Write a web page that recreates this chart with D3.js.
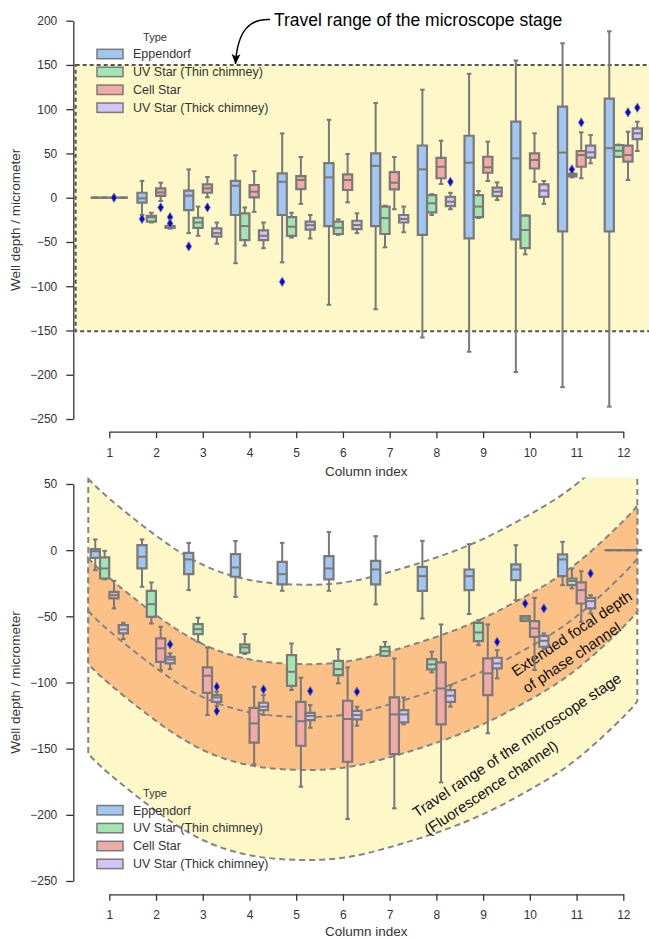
<!DOCTYPE html>
<html>
<head>
<meta charset="utf-8">
<title>Well depth per column</title>
<script src="https://d3js.org/d3.v7.min.js"></script>
<style>
  body { margin: 0; background: #fff; }
  svg { display: block; font-family: "Liberation Sans", Arial, sans-serif; }
  .axis text { font-size: 12px; fill: #333; }
  .axis path, .axis line { stroke: #333; stroke-width: 1.3; }
  .axis-label { font-size: 13.5px; fill: #333; }
  .legend text { font-size: 12.5px; fill: #333; }
  .legend .legend__title { font-size: 11px; }
  .box path, .box line { stroke: #797979; }
  .note { font-size: 15px; fill: #111; }
</style>
</head>
<body>
<svg width="649" height="939"></svg>
<script>
// ---- data ----
const types = ["Eppendorf", "UV Star (Thin chimney)", "Cell Star", "UV Star (Thick chimney)"];
const typeColors = ["#a0c6f1", "#a2e5b0", "#f2aaa7", "#d3c4f7"];
const columns = [1, 2, 3, 4, 5, 6, 7, 8, 9, 10, 11, 12];
const yTicksTop = [200, 150, 100, 50, 0, -50, -100, -150, -200, -250];
const yTicksBottom = [50, 0, -50, -100, -150, -200, -250];

// each entry: [lower whisker, q1, median, q3, upper whisker]
const topEppendorf = [[0,0,0,0,0],[-19.5,-5.6,-0.7,5.6,19],[-40,-14,2.3,8,32],[-74,-19.5,13.6,19,48],
  [-73,-19.5,18,27.6,72.7],[-121,-32,23,39,88],[-126,-32,36,50,107],[-158,-42,32,59,122],
  [-174,-46,39.5,70,140],[-197,-47,44.5,86,155],[-214,-38,51,103,174.5],[-236,-38,56,112,188]];
const topThin = [[0,0,0,0,0],[-28,-27,-22,-20.5,-17],[-43,-34,-28,-22.6,-10],[-54,-47.8,-32,-17.6,-11],
  [-45,-43,-32.7,-22,-17],[-42,-41,-34,-27,-24.4],[-56,-41,-23,-10,-9],[-19.5,-16.5,-6.3,3,4],
  [-23,-22,-10,3,7.6],[-64,-57,-36.5,-20.3,-20],[23,24,25.5,27,28],[46,46.3,53,59.5,60]];
const topCell = [[0,0,0,0,0],[-3.7,2,6,10.6,17],[0.5,5.6,10.6,15,23.4],[-16,0.5,6.8,14.4,30],
  [-7,9.8,20,24.5,46],[-5.2,8.7,20,26.4,49.4],[-13,9.5,17,29,46],[15.5,22,35,45,64.4],
  [18.9,28.2,34.4,46.3,63.3],[18,33,42.6,50,72.8],[22,35,48.2,52.8,73.9],[20,40.7,48.2,58.8,74.6]];
const topThick = [[0,0,0,0,0],[-35,-34,-33,-32,-31],[-52,-44,-40,-34.6,-28],[-57,-48,-43,-37,-28],
  [-46,-36,-31,-27,-19.5],[-40,-35.4,-30.8,-26,-17.6],[-39,-28,-24,-19.5,-10],[-13,-9.4,-4.5,1,5.6],
  [-2.6,1.9,6.8,11.3,17.4],[-7,1,8,15,18.9],[38.9,45.2,51.3,58.8,70.8],[52.8,66.3,72.8,78.4,85.9]];
// [type, column, value]
const topOutliers = [["Eppendorf",2,-24],["Eppendorf",3,-55],["Eppendorf",5,-95],
  ["UV Star (Thin chimney)",11,32],
  ["Cell Star",1,0],["Cell Star",2,-11],["Cell Star",3,-11],["Cell Star",11,85],["Cell Star",12,96.5],
  ["UV Star (Thick chimney)",2,-22],["UV Star (Thick chimney)",2,-29],["UV Star (Thick chimney)",8,18],
  ["UV Star (Thick chimney)",12,101.7]];

const bottomEppendorf = [[-15.1,-5.8,-0.8,0.8,8.1],[-27.7,-13.8,-5,3.8,8.1],[-30.2,-18.1,-7,-2,5.5],
  [-35.3,-20.1,-13.1,-3,7],[-30.7,-25.9,-18.1,-8.8,5.5],[-30.7,-22.1,-13.8,-4.5,13.8],
  [-41,-25.9,-14.6,-8.1,10.6],[-51.6,-30.7,-19.6,-12.6,7],[-48.3,-30.2,-19.6,-14.6,4.5],
  [-37.8,-22.7,-14.6,-10.8,3.8],[-26.4,-19.6,-7,-3.2,6.3],[0,0,0,0,0]];
const bottomThin = [[-22.1,-21.4,-13.8,-5.5,-0.5],[-55.4,-50.4,-40.8,-30.7,-24.4],[-69.3,-63.4,-59.7,-55.9,-51.1],
  [-78.5,-77.5,-73.5,-71.2,-63.4],[-105.7,-102.5,-91.9,-79.3,-70.5],[-100.7,-94.4,-89.9,-83.6,-74.8],
  [-80,-79.8,-76.3,-73,-69.3],[-92.4,-90.1,-86.3,-82.3,-76.8],[-71.8,-68.7,-62.2,-54.9,-52.9],
  [-53.4,-53.4,-51.6,-49.8,-49.8],[-28.9,-26.4,-23.2,-21.4,-13.8],[0,0,0,0,0]];
const bottomCell = [[-44,-36.5,-34,-31.5,-23.2],[-90.6,-84.4,-74.2,-66.7,-57.9],[-124.6,-107.8,-94.9,-88.6,-73.5],
  [-161.9,-145.5,-130.9,-119.1,-103.2],[-178.8,-147.8,-129.2,-114.6,-96.4],[-203.2,-159.9,-127.6,-113.8,-88.6],
  [-195.1,-154.1,-124.1,-111.3,-81.8],[-175.5,-131.6,-104.5,-84.8,-56.1],[-138.4,-109.5,-93.1,-81.8,-56.1],
  [-90.6,-65.5,-59.1,-53.6,-36],[-54.2,-40.3,-30.2,-24.4,-15.9],[0,0,0,0,0]];
const bottomThick = [[-67.2,-62.9,-59.9,-56.6,-54.9],[-89.9,-85.6,-82.6,-80.6,-78],[-117.8,-114.6,-111.3,-109.5,-107],
  [-124.6,-120.8,-118.3,-115.3,-109.5],[-134.2,-128.4,-125.2,-122.9,-117.1],[-132.7,-127.9,-124.6,-121.4,-118.3],
  [-131.6,-130.1,-124.1,-120.8,-111.3],[-118.3,-114.6,-110,-105.7,-102],[-96.9,-89.4,-85.6,-81.3,-75.5],
  [-74.8,-73,-68.5,-64.7,-62.9],[-47.8,-44,-38.5,-36,-34],[0,0,0,0,0]];
const bottomOutliers = [["UV Star (Thin chimney)",10,-40.3],
  ["UV Star (Thick chimney)",2,-71.2],["UV Star (Thick chimney)",3,-103.2],["UV Star (Thick chimney)",3,-121.6],
  ["UV Star (Thick chimney)",4,-105.2],["UV Star (Thick chimney)",5,-106.5],["UV Star (Thick chimney)",6,-107],
  ["UV Star (Thick chimney)",9,-69.3],["UV Star (Thick chimney)",10,-44],["UV Star (Thick chimney)",11,-17.6]];

// top panel: stage travel range [from column, to column], [low, high]
const stageColumns = [0.28, 12.8];
const stageRange = [-151, 150];

// bottom panel bands, sampled along the columns
const bandColumns = [0.55, 1, 2, 3, 4, 5, 6, 7, 8, 9, 10, 11, 12, 12.3];
const stageUpper  = [54, 39, 11, -11, -22.5, -26, -24.5, -16.5, -5.5, 8.5, 27, 50, 82, 94];
const phaseUpper  = [-6, -21, -49, -71, -82.5, -86, -84.5, -76.5, -65.5, -51.5, -33, -10, 22, 34];
const phaseCenter = [-46, -61, -89, -111, -122.5, -126, -124.5, -116.5, -105.5, -91.5, -73, -50, -18, -6];
const phaseLower  = [-86, -101, -129, -151, -162.5, -166, -164.5, -156.5, -145.5, -131.5, -113, -90, -58, -46];
const stageLower  = [-154, -169, -197, -219, -230.5, -234, -232.5, -224.5, -213.5, -199.5, -181, -158, -126, -114];

// ---- scales ----
const svg = d3.select("svg");
const x = d3.scaleLinear().domain([1, 12]).range([109.3, 623.3]);
const hue = d3.scaleBand().domain(types).range([-0.4, 0.4]);
const color = d3.scaleOrdinal().domain(types).range(typeColors);
const boxW = (x(2) - x(1)) * hue.bandwidth() * 0.98;
const hueX = (col, t) => x(col + hue(t) + hue.bandwidth() / 2);

const yTop = d3.scaleLinear().domain([-250, 200]).range([419, 20.7]);
const yBottom = d3.scaleLinear().domain([-250, 50]).range([881, 484]);

const fmt = d => d < 0 ? "\u2212" + Math.abs(d) : String(d);

function axes(y, ticks, xAxisY, props) {
  svg.append("g")
      .attr("class", "axis")
      .attr("transform", "translate(73.3,0)")
      .call(d3.axisLeft(y).tickValues(ticks).tickFormat(fmt).tickSize(7).tickSizeOuter(0).tickPadding(9));
  svg.append("g")
      .attr("class", "axis")
      .attr("transform", `translate(0,${xAxisY})`)
      .call(d3.axisBottom(x).tickValues(columns).tickSize(6.5).tickSizeOuter(0).tickPadding(props.xPad));
  svg.append("text")
      .attr("class", "axis-label")
      .attr("text-anchor", "middle")
      .attr("transform", `translate(20,${(y.range()[0] + y.range()[1]) / 2}) rotate(-90)`)
      .text("Well depth / micrometer");
  svg.append("text")
      .attr("class", "axis-label")
      .attr("text-anchor", "middle")
      .attr("x", (x(1) + x(12)) / 2)
      .attr("y", props.labelY)
      .text("Column index");
}

function boxes(y, stats, outliers) {
  const g = svg.append("g").attr("class", "box");
  types.forEach((t, ti) => {
    const rows = stats[ti].map((s, i) => ({col: columns[i], lo: s[0], q1: s[1], med: s[2], q3: s[3], hi: s[4]}));
    const b = g.append("g").selectAll("g").data(rows).join("g")
        .attr("transform", d => `translate(${hueX(d.col, t)},0)`);
    b.append("line").attr("y1", d => y(d.lo)).attr("y2", d => y(d.q1)).attr("stroke-width", 2);
    b.append("line").attr("y1", d => y(d.q3)).attr("y2", d => y(d.hi)).attr("stroke-width", 2);
    b.append("line").attr("x1", -boxW / 4).attr("x2", boxW / 4)
        .attr("y1", d => y(d.lo)).attr("y2", d => y(d.lo)).attr("stroke-width", 2);
    b.append("line").attr("x1", -boxW / 4).attr("x2", boxW / 4)
        .attr("y1", d => y(d.hi)).attr("y2", d => y(d.hi)).attr("stroke-width", 2);
    b.append("path")
        .attr("d", d => `M${-boxW / 2},${y(d.q3)}H${boxW / 2}V${y(d.q1)}H${-boxW / 2}Z`)
        .attr("fill", color(t))
        .attr("stroke-width", 2.2);
    b.append("line").attr("x1", -boxW / 2).attr("x2", boxW / 2)
        .attr("y1", d => y(d.med)).attr("y2", d => y(d.med)).attr("stroke-width", 2);
  });
  g.selectAll(".flier").data(outliers).join("path")
      .attr("class", "flier")
      .attr("d", "M0,-4.6L2.8,0L0,4.6L-2.8,0Z")
      .attr("fill", "#0000ff")
      .attr("stroke", "none")
      .attr("transform", d => `translate(${hueX(d[1], d[0])},${y(d[2])})`);
}

function legend(props) {
  const legendG = svg.append("g")
      .attr("class", "legend")
      .attr("transform", `translate(97,${props.positionY})`);
  legendG.append("text")
      .attr("class", "legend__title")
      .attr("x", 58)
      .attr("y", -17)
      .attr("dy", "0.35em")
      .attr("text-anchor", "middle")
      .text("Type");
  const items = legendG.selectAll(".item").data(types).join("g")
      .attr("class", "item")
      .attr("transform", (d, i) => `translate(0,${i * 17.9})`);
  items.append("rect")
      .attr("y", -4.7).attr("width", 26).attr("height", 9.4)
      .attr("fill", color)
      .attr("stroke", "#797979").attr("stroke-width", 1.5);
  items.append("text")
      .attr("x", 36)
      .attr("dy", "0.35em")
      .text(d => d);
}

// ---- top panel ----
svg.append("rect")
    .attr("x", x(stageColumns[0]))
    .attr("width", x(stageColumns[1]) - x(stageColumns[0]))
    .attr("y", yTop(stageRange[1]))
    .attr("height", yTop(stageRange[0]) - yTop(stageRange[1]))
    .attr("fill", "#fef8c8")
    .attr("stroke", "#555")
    .attr("stroke-width", 2)
    .attr("stroke-dasharray", "4,3");

axes(yTop, yTicksTop, 431.7, {xPad: 10, labelY: 476});
boxes(yTop, [topEppendorf, topThin, topCell, topThick], topOutliers);
legend({positionY: 54});

svg.append("defs").append("marker")
    .attr("id", "head")
    .attr("viewBox", "0 0 10 10")
    .attr("refX", 10).attr("refY", 5)
    .attr("markerWidth", 10).attr("markerHeight", 10)
    .attr("markerUnits", "userSpaceOnUse")
    .attr("orient", "auto")
  .append("path")
    .attr("d", "M0,0.5L10,5L0,9.5L2.5,5Z")
    .attr("fill", "#000");

const tip = [x(3.7), yTop(151)];
svg.append("path")
    .attr("d", `M270,19.5C250,18.5 ${tip[0] + 2},30 ${tip[0]},${tip[1]}`)
    .attr("fill", "none")
    .attr("stroke", "#000")
    .attr("stroke-width", 1.5)
    .attr("marker-end", "url(#head)");
svg.append("text")
    .attr("x", 274)
    .attr("y", 26)
    .attr("font-size", "17.5px")
    .attr("fill", "#000")
    .text("Travel range of the microscope stage");

// ---- bottom panel ----
svg.select("defs").append("clipPath")
    .attr("id", "clip-bottom")
  .append("rect")
    .attr("x", 0).attr("width", 649)
    .attr("y", yBottom(55)).attr("height", yBottom(-260) - yBottom(55));

const bandG = svg.append("g").attr("clip-path", "url(#clip-bottom)");
const bandArea = (upper, lower) => d3.area()
    .x((d, i) => x(bandColumns[i]))
    .y0((d, i) => yBottom(lower[i]))
    .y1((d, i) => yBottom(upper[i]))
    .curve(d3.curveNatural)(bandColumns);
const dashed = {stroke: "#858585", width: 2, dash: "6,4"};

bandG.append("path")
    .attr("d", bandArea(stageUpper, stageLower))
    .attr("fill", "#fef8c8")
    .attr("stroke", dashed.stroke).attr("stroke-width", dashed.width).attr("stroke-dasharray", dashed.dash);
bandG.append("path")
    .attr("d", bandArea(phaseUpper, phaseLower))
    .attr("fill", "#fcc187")
    .attr("stroke", dashed.stroke).attr("stroke-width", dashed.width).attr("stroke-dasharray", dashed.dash);
bandG.append("path")
    .attr("d", d3.line()
        .x((d, i) => x(bandColumns[i]))
        .y(d => yBottom(d))
        .curve(d3.curveNatural)(phaseCenter))
    .attr("fill", "none")
    .attr("stroke", dashed.stroke).attr("stroke-width", dashed.width).attr("stroke-dasharray", dashed.dash);

const note1 = svg.append("text")
    .attr("class", "note")
    .attr("transform", "translate(516,677) rotate(-33.7)");
note1.append("tspan").attr("x", 0).text("Extended focal depth");
note1.append("tspan").attr("x", 0).attr("dy", 20).text("of phase channel");

const note2 = svg.append("text")
    .attr("class", "note")
    .attr("transform", "translate(417,818) rotate(-33.7)");
note2.append("tspan").attr("x", 0).text("Travel range of the microscope stage");
note2.append("tspan").attr("x", 0).attr("dy", 21).text("(Fluorescence channel)");

axes(yBottom, yTicksBottom, 894.3, {xPad: 9.5, labelY: 936});
boxes(yBottom, [bottomEppendorf, bottomThin, bottomCell, bottomThick], bottomOutliers);
legend({positionY: 810.2});
</script>
</body>
</html>
